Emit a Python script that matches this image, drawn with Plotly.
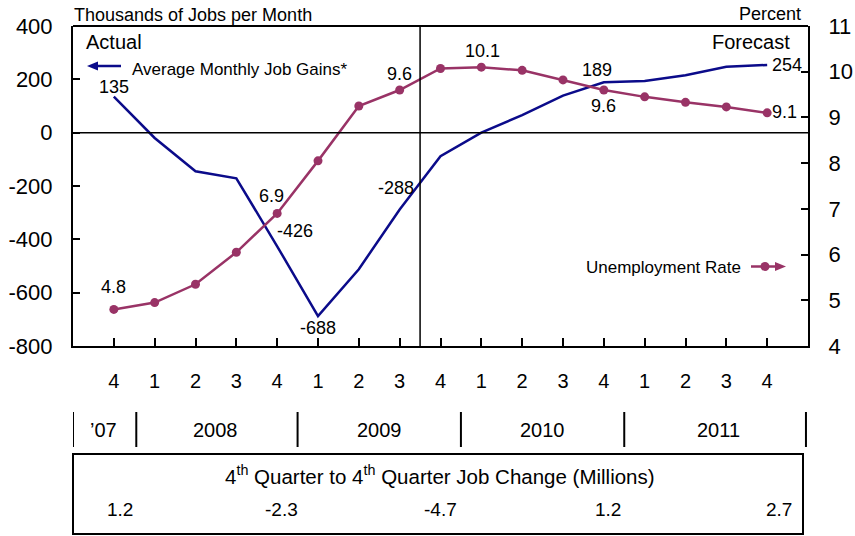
import plotly.graph_objects as go

# ---------------- data ----------------
quarters = ["4", "1", "2", "3", "4", "1", "2", "3", "4", "1", "2", "3", "4", "1", "2", "3", "4"]
job_gains = [135, -20, -145, -171, -426, -688, -512, -288, -88, 0, 66, 139, 189, 194, 215, 247, 254]
unemployment = [4.8, 4.95, 5.35, 6.05, 6.9, 8.05, 9.25, 9.6, 10.07, 10.1, 10.03, 9.82, 9.6, 9.45, 9.33, 9.23, 9.1]
job_label_idx = [0, 4, 5, 7, 12, 16]
unemp_label_idx = [0, 4, 7, 9, 12, 16]
left_ticks = [-800, -600, -400, -200, 0, 200, 400]
right_ticks = [4, 5, 6, 7, 8, 9, 10, 11]
years = ["\u201907", "2008", "2009", "2010", "2011"]
year_centers = [-0.25, 2.5, 6.5, 10.5, 14.8]
year_bounds = [-1, 0.55, 4.5, 8.5, 12.5, 16.95]
q4_change = ["1.2", "-2.3", "-4.7", "1.2", "2.7"]
q4_change_pos = [0.15, 4.1, 8.0, 12.1, 16.3]

W, H = 855, 536
L, R, T, B = 73, 808, 26, 346

def px(x):
    return (x - L) / (R - L)

def py(y):
    return (B - y) / (B - T)

FONT = "Liberation Sans, Arial, sans-serif"
NAVY = "#0B0B8A"
PLUM = "#993366"

xs = list(range(len(quarters)))

fig = go.Figure()
fig.add_trace(go.Scatter(x=xs, y=job_gains, mode="lines", line=dict(color=NAVY, width=2.5),
                         yaxis="y", showlegend=False, hoverinfo="skip"))
fig.add_trace(go.Scatter(x=xs, y=unemployment, mode="lines+markers",
                         line=dict(color=PLUM, width=2.5), marker=dict(color=PLUM, size=9),
                         yaxis="y2", showlegend=False, hoverinfo="skip"))

ann = []
LBL = 18
# job labels (offsets in px)
job_off = {0: (0, 10, "center"), 4: (18, 15, "center"), 5: (0, -12, "center"),
           7: (-4, 21, "center"), 12: (-7, 12, "center"), 16: (3, 0, "left")}
for i in job_label_idx:
    dx, dy, xa = job_off[i]
    ann.append(dict(x=i, y=job_gains[i], xref="x", yref="y", text=str(job_gains[i]),
                    showarrow=False, xshift=dx, yshift=dy, xanchor=xa,
                    font=dict(size=LBL, color="black", family=FONT)))
unemp_off = {0: (0, 22, "center"), 4: (-6, 17, "center"), 7: (0, 16, "center"),
             9: (1, 16, "center"), 12: (0, -16, "center"), 16: (3, 1, "left")}
for i in unemp_label_idx:
    dx, dy, xa = unemp_off[i]
    ann.append(dict(x=i, y=unemployment[i], xref="x", yref="y2", text=f"{unemployment[i]:.1f}",
                    showarrow=False, xshift=dx, yshift=dy, xanchor=xa,
                    font=dict(size=LBL, color="black", family=FONT)))

# axis titles / labels
ann.append(dict(x=px(72), y=py(15), xref="paper", yref="paper", text="Thousands of Jobs per Month",
                showarrow=False, xanchor="left", yanchor="middle", font=dict(size=18, color="black", family=FONT)))
ann.append(dict(x=px(803), y=py(14), xref="paper", yref="paper", text="Percent",
                showarrow=False, xanchor="right", yanchor="middle", font=dict(size=18, color="black", family=FONT)))
ann.append(dict(x=px(84), y=py(42), xref="paper", yref="paper", text="Actual",
                showarrow=False, xanchor="left", yanchor="middle", font=dict(size=20, color="black", family=FONT)))
ann.append(dict(x=px(792), y=py(42), xref="paper", yref="paper", text="Forecast",
                showarrow=False, xanchor="right", yanchor="middle", font=dict(size=20, color="black", family=FONT)))

# legend texts
ann.append(dict(x=px(130), y=py(69), xref="paper", yref="paper", text="Average Monthly Job Gains*",
                showarrow=False, xanchor="left", yanchor="middle", font=dict(size=17, color="black", family=FONT)))
ann.append(dict(x=px(743), y=py(267), xref="paper", yref="paper", text="Unemployment Rate",
                showarrow=False, xanchor="right", yanchor="middle", font=dict(size=17, color="black", family=FONT)))

# year labels
for yl, xc in zip(years, year_centers):
    ann.append(dict(x=xc, y=py(430), xref="x", yref="paper", text=yl, showarrow=False,
                    xanchor="center", yanchor="middle", font=dict(size=20, color="black", family=FONT)))
# bottom box text
ann.append(dict(x=px(440), y=py(475), xref="paper", yref="paper",
                text="4<sup>th</sup> Quarter to 4<sup>th</sup> Quarter Job Change (Millions)",
                showarrow=False, xanchor="center", yanchor="middle", font=dict(size=20.5, color="black", family=FONT)))
for v, xc in zip(q4_change, q4_change_pos):
    ann.append(dict(x=xc, y=py(509), xref="x", yref="paper", text=v, showarrow=False,
                    xanchor="center", yanchor="middle", font=dict(size=19, color="black", family=FONT)))

shapes = []
# zero line
shapes.append(dict(type="line", xref="paper", yref="y", x0=0, x1=1, y0=0, y1=0,
                   line=dict(color="black", width=1.5)))
# actual / forecast divider
shapes.append(dict(type="line", xref="x", yref="paper", x0=7.5, x1=7.5, y0=0, y1=1,
                   line=dict(color="black", width=1.5)))
# top border
shapes.append(dict(type="line", xref="paper", yref="paper", x0=0, x1=1, y0=1, y1=1,
                   line=dict(color="black", width=2)))

# legend arrow (job gains, pointing left)
shapes.append(dict(type="line", xref="paper", yref="paper", x0=px(96), x1=px(121), y0=py(66), y1=py(66),
                   line=dict(color=NAVY, width=2.5)))
shapes.append(dict(type="path", xref="paper", yref="paper",
                   path=f"M {px(87)} {py(66)} L {px(98)} {py(61.5)} L {px(98)} {py(70.5)} Z",
                   fillcolor=NAVY, line=dict(color=NAVY, width=0)))
# legend arrow (unemployment, pointing right)
shapes.append(dict(type="line", xref="paper", yref="paper", x0=px(751), x1=px(776), y0=py(266.5), y1=py(266.5),
                   line=dict(color=PLUM, width=2.5)))
shapes.append(dict(type="path", xref="paper", yref="paper",
                   path=f"M {px(786)} {py(266.5)} L {px(775)} {py(262)} L {px(775)} {py(271)} Z",
                   fillcolor=PLUM, line=dict(color=PLUM, width=0)))
shapes.append(dict(type="circle", xref="paper", yref="paper",
                   x0=px(760.5), x1=px(769.5), y0=py(271), y1=py(262),
                   fillcolor=PLUM, line=dict(color=PLUM, width=0)))
# year separators
for xb in year_bounds:
    shapes.append(dict(type="line", xref="x", yref="paper", x0=xb, x1=xb, y0=py(412), y1=py(447),
                       line=dict(color="black", width=2)))
# bottom box
shapes.append(dict(type="rect", xref="paper", yref="paper", x0=px(73), x1=px(803), y0=py(454), y1=py(534),
                   line=dict(color="black", width=2)))

fig.update_layout(
    width=W, height=H,
    margin=dict(l=L, r=W - R, t=T, b=H - B, pad=0, autoexpand=False),
    paper_bgcolor="white", plot_bgcolor="white",
    font=dict(family=FONT, color="black"),
    xaxis=dict(range=[-1, 17], tickvals=xs, ticktext=quarters, showgrid=False, zeroline=False,
               showline=True, linecolor="black", linewidth=2, ticks="inside", ticklen=8,
               tickcolor="black", tickwidth=1.5, tickfont=dict(size=20, family=FONT),
               ticklabelstandoff=16, fixedrange=True, automargin=False),
    yaxis=dict(range=[-800, 400], tickvals=left_ticks, ticktext=[str(v) for v in left_ticks],
               showgrid=False, zeroline=False, showline=True, linecolor="black", linewidth=2,
               ticks="inside", ticklen=7, tickcolor="black", tickwidth=1.5,
               tickfont=dict(size=22, family=FONT), ticklabelstandoff=14, fixedrange=True,
               automargin=False),
    yaxis2=dict(range=[4, 11], tickvals=right_ticks, ticktext=[str(v) for v in right_ticks],
                overlaying="y", side="right",
                showgrid=False, zeroline=False, showline=True, linecolor="black", linewidth=2,
                ticks="inside", ticklen=7, tickcolor="black", tickwidth=1.5,
                tickfont=dict(size=22, family=FONT), ticklabelstandoff=14, fixedrange=True,
                automargin=False),
    annotations=ann, shapes=shapes, showlegend=False,
)

fig.write_html("out.html", config={"displayModeBar": False},
               post_script="document.body.style.margin='0px';")
